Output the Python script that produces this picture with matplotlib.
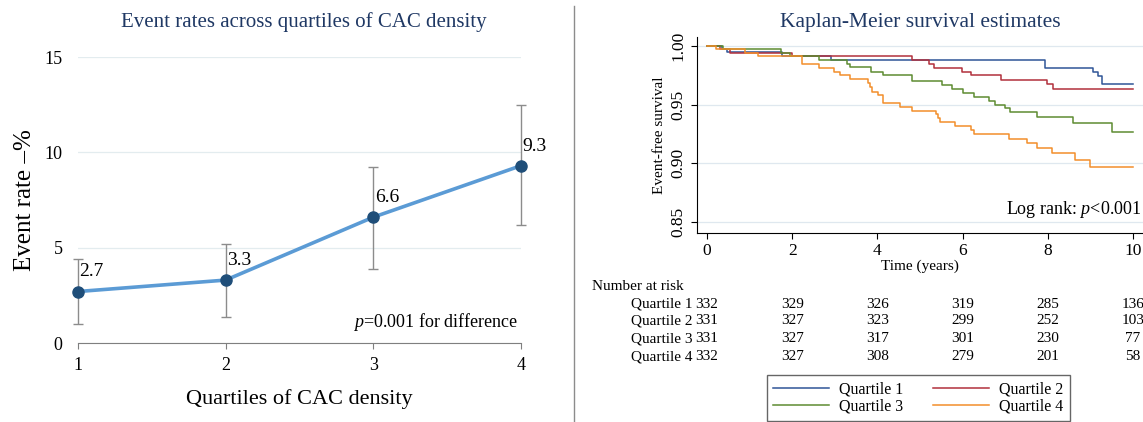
import matplotlib
matplotlib.use("Agg")
import matplotlib.pyplot as plt
from matplotlib.lines import Line2D

plt.rcParams['font.family'] = ['Liberation Serif', 'DejaVu Serif']
plt.rcParams['mathtext.fontset'] = 'custom'
plt.rcParams['mathtext.rm'] = 'Liberation Serif'
plt.rcParams['mathtext.it'] = 'Liberation Serif:italic'

# left panel: event rates by quartile
quartiles = [1, 2, 3, 4]
event_rate = [2.7, 3.3, 6.6, 9.3]
ci_low = [1.0, 1.35, 3.9, 6.2]
ci_high = [4.4, 5.2, 9.25, 12.5]

# right panel: Kaplan-Meier steps (time in years, survival after the step)
q1_t = [0, 0.35, 0.48, 1.75, 2.9, 7.94, 9.07, 9.19, 9.27]
q1_s = [1.0, 0.997, 0.9945, 0.9915, 0.988, 0.981, 0.978, 0.974, 0.9676]
q2_t = [0, 0.3, 0.55, 2.0, 4.82, 5.2, 5.32, 5.98, 6.2, 6.9, 7.98, 8.13]
q2_s = [1.0, 0.997, 0.994, 0.991, 0.988, 0.9845, 0.981, 0.978, 0.975, 0.971, 0.9675, 0.9636]
q3_t = [0, 0.38, 1.74, 1.95, 2.63, 3.28, 3.35, 3.86, 4.14, 4.81, 5.51, 5.75, 6.0, 6.26,
        6.61, 6.76, 7.0, 7.12, 7.74, 8.59, 9.5]
q3_s = [1.0, 0.997, 0.994, 0.991, 0.988, 0.985, 0.9817, 0.978, 0.9755, 0.970, 0.9665, 0.9634,
        0.9597, 0.9566, 0.9535, 0.950, 0.9468, 0.9434, 0.9397, 0.9344, 0.927]
q4_t = [0, 0.22, 0.9, 1.2, 2.22, 2.62, 2.98, 3.12, 3.35, 3.77, 3.82, 3.88, 4.02, 4.12, 4.52,
        4.82, 5.38, 5.42, 5.47, 5.83, 6.2, 6.26, 7.08, 7.52, 7.74, 8.09, 8.64, 8.99]
q4_s = [1.0, 0.997, 0.994, 0.991, 0.9846, 0.981, 0.978, 0.975, 0.972, 0.9685, 0.965, 0.961,
        0.958, 0.951, 0.948, 0.9445, 0.9417, 0.9389, 0.9352, 0.9318, 0.9282, 0.9248, 0.9211,
        0.9177, 0.913, 0.9087, 0.9028, 0.8966]
t_end = 10

risk_times = [0, 2, 4, 6, 8, 10]
risk_labels = ['Quartile 1', 'Quartile 2', 'Quartile 3', 'Quartile 4']
risk_q1 = [332, 329, 326, 319, 285, 136]
risk_q2 = [331, 327, 323, 299, 252, 103]
risk_q3 = [331, 327, 317, 301, 230, 77]
risk_q4 = [332, 327, 308, 279, 201, 58]

km_colors = ['#2f5597', '#b2303c', '#5e8c31', '#f28e2b']
title_col = '#1f3864'

W, H = 1143, 422
fig = plt.figure(figsize=(W / 100, H / 100), dpi=100)

# ---- left panel
ax = fig.add_axes([78 / W, 1 - 343 / H, 443 / W, 286 / H])
yerr = [[r - lo for r, lo in zip(event_rate, ci_low)],
        [hi - r for r, hi in zip(event_rate, ci_high)]]
ax.errorbar(quartiles, event_rate, yerr=yerr, fmt='none', ecolor='#8c8c8c',
            elinewidth=1, capsize=3.5, capthick=1, zorder=2, clip_on=False)
ax.plot(quartiles, event_rate, color='#5b9bd5', lw=2.6, zorder=3, clip_on=False)
ax.plot(quartiles, event_rate, 'o', color='#1f4e79', ms=8, zorder=4, clip_on=False)
for q, r in zip(quartiles, event_rate):
    ax.annotate(f'{r}', (q, r), xytext=(1, 8), textcoords='offset points',
                ha='left', va='bottom', fontsize=14)
ax.set_xlim(1, 4)
ax.set_ylim(0, 15)
ax.set_xticks(quartiles)
ax.set_yticks([0, 5, 10, 15])
ax.yaxis.grid(True, color='#e3ecef', lw=0.9)
ax.set_axisbelow(True)
for s in ['top', 'right', 'left']:
    ax.spines[s].set_visible(False)
ax.spines['bottom'].set_color('#7f7f7f')
ax.tick_params(axis='y', length=0, labelsize=13, pad=11)
ax.tick_params(axis='x', length=4, color='#7f7f7f', labelsize=13, pad=6)
ax.set_xlabel('Quartiles of CAC density', fontsize=16, labelpad=11)
ax.set_ylabel('Event rate –%', fontsize=18, labelpad=6)
ax.text(3.98, 0.55, '$p$=0.001 for difference', ha='right', va='bottom', fontsize=13)
fig.text(304 / W, 1 - 22 / H, 'Event rates across quartiles of CAC density',
         ha='center', va='center', fontsize=15, color=title_col)

# divider
fig.add_artist(Line2D([574 / W, 574 / W], [0, 1 - 6 / H], color='#8c8c8c', lw=1))

# ---- right panel
ax2 = fig.add_axes([697 / W, 1 - 233 / H, 446 / W, 196 / H])
for t, s, c in zip([q1_t, q2_t, q3_t, q4_t], [q1_s, q2_s, q3_s, q4_s], km_colors):
    ax2.step(t + [t_end], s + [s[-1]], where='post', color=c, lw=1.1)
ax2.set_xlim(-0.235, 10.235)
ax2.set_ylim(0.8407, 1.0076)
ax2.set_xticks(risk_times)
ax2.set_yticks([0.85, 0.90, 0.95, 1.00])
ax2.set_yticklabels(['0.85', '0.90', '0.95', '1.00'], rotation=90, va='center')
ax2.yaxis.grid(True, color='#dfe8ef', lw=0.9)
ax2.set_axisbelow(True)
for s in ['top', 'right']:
    ax2.spines[s].set_visible(False)
ax2.tick_params(labelsize=12.5, length=4)
ax2.set_xlabel('Time (years)', fontsize=11, labelpad=0)
ax2.set_ylabel('Event-free survival', fontsize=11, labelpad=3)
ax2.text(10.2, 0.852, 'Log rank: $p$<0.001', ha='right', va='bottom', fontsize=13)
fig.text(920 / W, 1 - 22 / H, 'Kaplan-Meier survival estimates',
         ha='center', va='center', fontsize=15.5, color=title_col)

# number at risk table
fig.text(592 / W, 1 - 286 / H, 'Number at risk', ha='left', va='center', fontsize=11)
rows_y = [304, 321, 339, 357]
x0 = ax2.transData.transform((0, 1))[0]
for lab, vals, yy in zip(risk_labels, [risk_q1, risk_q2, risk_q3, risk_q4], rows_y):
    fig.text((x0 - 15) / W, 1 - yy / H, lab, ha='right', va='center', fontsize=11)
    for t, v in zip(risk_times, vals):
        xp = ax2.transData.transform((t, 1))[0]
        fig.text(xp / W, 1 - yy / H, str(v), ha='center', va='center', fontsize=11)

# legend: row 1 Q1, Q2; row 2 Q3, Q4 (matplotlib fills columns first)
order = [0, 2, 1, 3]
handles = [Line2D([], [], color=km_colors[i], lw=1.1) for i in order]
labels = [risk_labels[i] for i in order]
fig.legend(handles, labels, loc='upper left', bbox_to_anchor=(767 / W, 1 - 375 / H),
           ncol=2, fontsize=11.5, frameon=True, fancybox=False, edgecolor='#404040',
           handlelength=3.5, handletextpad=0.6, columnspacing=1.9, borderpad=0.4,
           labelspacing=0.1, borderaxespad=0)

fig.savefig('out.png', dpi=100)
